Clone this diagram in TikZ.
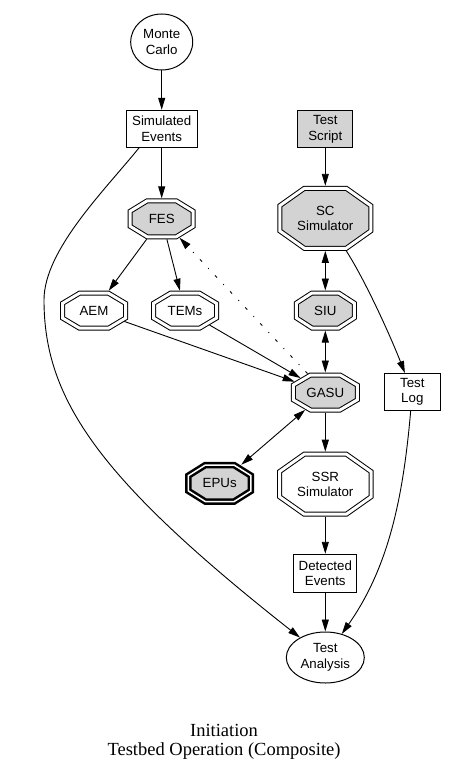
\documentclass[tikz,border=0pt]{standalone}
\usepackage{fontspec}
\setmainfont{Liberation Sans}
\newfontfamily\titlefont{Liberation Serif}
\usetikzlibrary{shapes.geometric,arrows.meta}
\definecolor{gfill}{RGB}{211,211,211}
\makeatletter
\pgfdeclareshape{octo}{%
  \inheritsavedanchors[from=rectangle]%
  \inheritanchor[from=rectangle]{center}%
  \inheritanchor[from=rectangle]{north}%
  \inheritanchor[from=rectangle]{south}%
  \inheritanchor[from=rectangle]{east}%
  \inheritanchor[from=rectangle]{west}%
  \inheritanchor[from=rectangle]{text}%
  \backgroundpath{%
    \southwest\edef\octswx{\the\pgf@x}\edef\octswy{\the\pgf@y}%
    \northeast\edef\octnex{\the\pgf@x}\edef\octney{\the\pgf@y}%
    \pgfmathsetmacro\octox{\pgfkeysvalueof{/pgf/outer xsep}}%
    \pgfmathsetmacro\octoy{\pgfkeysvalueof{/pgf/outer ysep}}%
    \pgfmathsetmacro\octxl{\octswx+\octox}%
    \pgfmathsetmacro\octxr{\octnex-\octox}%
    \pgfmathsetmacro\octyb{\octswy+\octoy}%
    \pgfmathsetmacro\octyt{\octney-\octoy}%
    \pgfmathsetmacro\octcx{0.27*(\octxr-\octxl)}%
    \pgfmathsetmacro\octcy{0.29*(\octyt-\octyb)}%
    \pgfmathsetmacro\octxli{\octxl+\octcx}%
    \pgfmathsetmacro\octxri{\octxr-\octcx}%
    \pgfmathsetmacro\octybi{\octyb+\octcy}%
    \pgfmathsetmacro\octyti{\octyt-\octcy}%
    \pgfpathmoveto{\pgfqpoint{\octxli pt}{\octyt pt}}%
    \pgfpathlineto{\pgfqpoint{\octxri pt}{\octyt pt}}%
    \pgfpathlineto{\pgfqpoint{\octxr pt}{\octyti pt}}%
    \pgfpathlineto{\pgfqpoint{\octxr pt}{\octybi pt}}%
    \pgfpathlineto{\pgfqpoint{\octxri pt}{\octyb pt}}%
    \pgfpathlineto{\pgfqpoint{\octxli pt}{\octyb pt}}%
    \pgfpathlineto{\pgfqpoint{\octxl pt}{\octybi pt}}%
    \pgfpathlineto{\pgfqpoint{\octxl pt}{\octyti pt}}%
    \pgfpathclose
  }%
  \anchorborder{%
    \edef\octdx{\the\pgf@x}\edef\octdy{\the\pgf@y}%
    \southwest\edef\octswx{\the\pgf@x}\edef\octswy{\the\pgf@y}%
    \northeast\edef\octnex{\the\pgf@x}\edef\octney{\the\pgf@y}%
    \pgfmathsetmacro\octa{(\octnex-\octswx)/2}%
    \pgfmathsetmacro\octb{(\octney-\octswy)/2}%
    \pgfmathsetmacro\octmx{(\octnex+\octswx)/2}%
    \pgfmathsetmacro\octmy{(\octney+\octswy)/2}%
    \pgfmathsetmacro\octcx{0.54*\octa}%
    \pgfmathsetmacro\octcy{0.58*\octb}%
    \pgfmathsetmacro\octlen{max(veclen(\octdx,\octdy),0.001)}%
    \pgfmathsetmacro\octux{abs(\octdx)/\octlen}%
    \pgfmathsetmacro\octuy{abs(\octdy)/\octlen}%
    \pgfmathsetmacro\octta{\octa/max(\octux,0.01)}%
    \pgfmathsetmacro\octtb{\octb/max(\octuy,0.01)}%
    \pgfmathsetmacro\octtc{(\octcy*\octa+\octcx*\octb-\octcx*\octcy)/(\octcy*\octux+\octcx*\octuy)}%
    \pgfmathsetmacro\octt{min(\octta,\octtb,\octtc)}%
    \pgfmathsetmacro\octrx{\octmx+\octt*(\octdx)/\octlen}%
    \pgfmathsetmacro\octry{\octmy+\octt*(\octdy)/\octlen}%
    \pgf@x=\octrx pt\relax
    \pgf@y=\octry pt\relax
  }%
}
\makeatother
\begin{document}
\begin{tikzpicture}[x=1pt,y=-1pt,
  every node/.style={font=\fontsize{13.3}{15.5}\selectfont, align=center, inner sep=0pt},
  box/.style={draw, rectangle, line width=1pt},
  ell/.style={draw, ellipse, line width=1pt},
  oct/.style={shape=octo, draw, double, double distance=3pt, line width=1pt, outer sep=2.5pt},
  boldoct/.style={shape=octo, draw, double, double distance=1.5pt, line width=2.5pt, outer sep=4pt},
  arr/.style={line width=0.9pt, -{Triangle[length=12pt,width=7pt]}},
  darr/.style={line width=0.9pt, {Triangle[length=12pt,width=7pt]}-{Triangle[length=12pt,width=7pt]}},
  dotarr/.style={line width=0.9pt, dash pattern=on 3pt off 9pt on 1pt off 9pt, -{Triangle[length=12pt,width=7pt]}},
  titletext/.style={font=\titlefont\fontsize{18.5}{19}\selectfont, anchor=base}
]
\useasboundingbox (0,0) rectangle (448,773);

\node[ell, minimum width=62pt, minimum height=56pt] (mc) at (161.7,42) {Monte\\Carlo};
\node[box, minimum width=71pt, minimum height=37pt] (se) at (161.7,128.8) {Simulated\\Events};
\node[box, fill=gfill, minimum width=55pt, minimum height=37pt] (ts) at (325.3,129.2) {Test\\Script};
\node[oct, fill=gfill, minimum width=63pt, minimum height=36pt] (fes) at (161.7,218.8) {FES};
\node[oct, fill=gfill, minimum width=91pt, minimum height=60pt] (sc) at (325.3,218.3) {SC\\Simulator};
\node[oct, minimum width=63pt, minimum height=35pt] (aem) at (94,310.7) {AEM};
\node[oct, minimum width=63pt, minimum height=35pt] (tems) at (185,310.7) {TEMs};
\node[oct, fill=gfill, minimum width=58pt, minimum height=35pt] (siu) at (325.3,310.5) {SIU};
\node[oct, fill=gfill, minimum width=64pt, minimum height=35pt] (gasu) at (325.3,392.5) {GASU};
\node[box, minimum width=55.5pt, minimum height=37pt] (tl) at (412.3,392) {Test\\Log};
\node[boldoct, fill=gfill, minimum width=62.5pt, minimum height=36.5pt] (epus) at (219.7,483.3) {EPUs};
\node[oct, minimum width=91.5pt, minimum height=60pt] (ssr) at (325.3,484.2) {SSR\\Simulator};
\node[box, minimum width=63pt, minimum height=38pt] (de) at (325.3,573.3) {Detected\\Events};
\node[ell, minimum width=78pt, minimum height=51pt] (ta) at (325.3,657.5) {Test\\Analysis};

\node[titletext] (t1) at (224,736) {Initiation};
\node[titletext] (t2) at (224,755) {Testbed Operation (Composite)};

\draw[arr] (mc) -- (se);
\draw[arr] (se) -- (fes);
\draw[arr] (ts) -- (sc);
\draw[darr] (sc) -- (siu);
\draw[darr] (siu) -- (gasu);
\draw[arr] (fes) -- (aem);
\draw[arr] (fes) -- (tems);
\draw[arr] (aem) -- (gasu);
\draw[arr] (tems) -- (gasu);
\draw[dotarr] (gasu) -- (fes);
\draw[darr] (gasu) -- (epus);
\draw[arr] (gasu) -- (ssr);
\draw[arr] (ssr) -- (de);
\draw[arr] (de) -- (ta);
\draw[arr] (se.220) .. controls (105,190) and (44,250) .. (44,300)
  .. controls (44,400) and (100,480) .. (ta);
\draw[arr] (sc) .. controls (365,280) and (390,335) .. (tl);
\draw[arr] (tl) .. controls (403,500) and (388,568) .. (ta);
\end{tikzpicture}
\end{document}
